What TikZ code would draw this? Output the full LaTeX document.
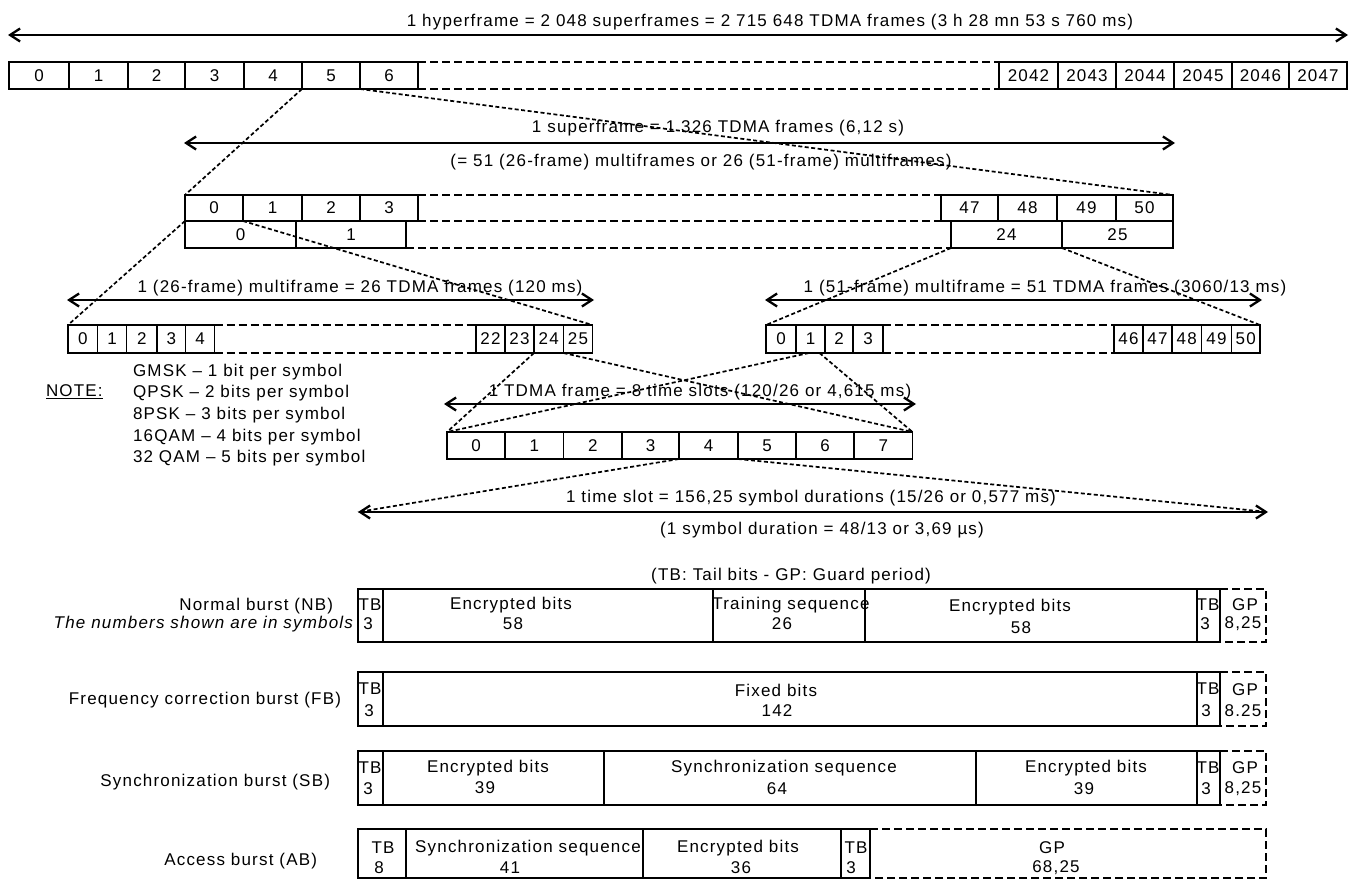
\documentclass[tikz,border=0pt]{standalone}
\usepackage{fontspec}
\setmainfont{Liberation Sans}[LetterSpace=7]
\usetikzlibrary{arrows.meta}
\tikzset{
  cell/.style={inner sep=0pt, outer sep=0pt, line width=1.9pt, rectangle},
  rowdash/.style={line width=1.9pt, dash pattern=on 8pt off 4pt},
  zoomline/.style={line width=1.7pt, dash pattern=on 4pt off 2.5pt},
  dimarrow/.style={line width=2.3pt, {Straight Barb[length=10pt,width=13pt,line width=2.3pt]}-{Straight Barb[length=10pt,width=13pt,line width=2.3pt]}},
  txt/.style={inner sep=0pt, outer sep=0pt},
}
% name, x1, x2, y1, y2, text
\newcommand\fcell[7][draw]{\node[cell,#1,minimum width={(#4-#3)*1pt},minimum height={(#6-#5)*1pt}] (#2) at ({(#3+#4)/2},{(#5+#6)/2}) {#7};}
\newcommand\tx[4]{\node[txt] (#1) at (#2,#3) {#4};}
\begin{document}
\begin{tikzpicture}[x=1pt,y=-1pt,font=\fontsize{17}{20}\selectfont]
\useasboundingbox (0,0) rectangle (1353,880);
\fill[white] (0,0) rectangle (1353,880);

% ---------------- hyperframe
\coordinate (hyL) at (8,35); \coordinate (hyR) at (1348,35);
\draw[dimarrow] (hyL) -- (hyR);
\tx{hyT}{770}{22}{1 hyperframe = 2 048 superframes = 2 715 648 TDMA frames (3 h 28 mn 53 s 760 ms)}
\fcell{h0}{9}{69}{62}{89}{0}
\fcell{h1}{69}{128}{62}{89}{1}
\fcell{h2}{128}{185}{62}{89}{2}
\fcell{h3}{185}{244}{62}{89}{3}
\fcell{h4}{244}{302}{62}{89}{4}
\fcell{h5}{302}{360}{62}{89}{5}
\fcell{h6}{360}{418}{62}{89}{6}
\fcell{h2042}{999}{1058}{62}{89}{2042}
\fcell{h2043}{1058}{1116}{62}{89}{2043}
\fcell{h2044}{1116}{1174}{62}{89}{2044}
\fcell{h2045}{1174}{1232}{62}{89}{2045}
\fcell{h2046}{1232}{1289}{62}{89}{2046}
\fcell{h2047}{1289}{1347}{62}{89}{2047}
\draw[rowdash] (h6.north east) -- (h2042.north west);
\draw[rowdash] (h6.south east) -- (h2042.south west);

% ---------------- superframe
\coordinate (sfL) at (184,143); \coordinate (sfR) at (1175,143);
\draw[dimarrow] (sfL) -- (sfR);
\tx{sfT}{718}{128}{1 superframe = 1 326 TDMA frames (6,12 s)}
\tx{sfT2}{701}{162}{(= 51 (26-frame) multiframes or 26 (51-frame) multiframes)}
\fcell{sf0}{185}{243}{195}{221}{0}
\fcell{sf1}{243}{302}{195}{221}{1}
\fcell{sf2}{302}{360}{195}{221}{2}
\fcell{sf3}{360}{418}{195}{221}{3}
\fcell{sf47}{941}{998}{195}{221}{47}
\fcell{sf48}{998}{1057}{195}{221}{48}
\fcell{sf49}{1057}{1116}{195}{221}{49}
\fcell{sf50}{1116}{1173}{195}{221}{50}
\fcell{sfb0}{185}{296}{221}{248}{0}
\fcell{sfb1}{296}{406}{221}{248}{1}
\fcell{sfb24}{951}{1062}{221}{248}{24}
\fcell{sfb25}{1062}{1173}{221}{248}{25}
\draw[rowdash] (sf3.north east) -- (sf47.north west);
\draw[rowdash] (sf3.south east) -- (sf47.south west);
\draw[rowdash] (sfb1.south east) -- (sfb24.south west);

% ---------------- 26-frame multiframe
\coordinate (m26L) at (67,300); \coordinate (m26R) at (594,300);
\draw[dimarrow] (m26L) -- (m26R);
\tx{m26T}{360}{288}{1 (26-frame) multiframe = 26 TDMA frames (120 ms)}
\fcell{m26c0}{68}{97.5}{325}{353}{0}
\fcell{m26c1}{97.5}{126.5}{325}{353}{1}
\fcell{m26c2}{126.5}{157}{325}{353}{2}
\fcell{m26c3}{157}{185.5}{325}{353}{3}
\fcell{m26c4}{185.5}{214.5}{325}{353}{4}
\fcell{m26c22}{476}{505}{325}{353}{22}
\fcell{m26c23}{505}{534}{325}{353}{23}
\fcell{m26c24}{534}{563.5}{325}{353}{24}
\fcell{m26c25}{563.5}{592.5}{325}{353}{25}
\draw[rowdash] (m26c4.north east) -- (m26c22.north west);
\draw[rowdash] (m26c4.south east) -- (m26c22.south west);

% ---------------- 51-frame multiframe
\coordinate (m51L) at (765,300); \coordinate (m51R) at (1262,300);
\draw[dimarrow] (m51L) -- (m51R);
\tx{m51T}{1045}{288}{1 (51-frame) multiframe = 51 TDMA frames (3060/13 ms)}
\fcell{m51c0}{766}{796}{325}{353}{0}
\fcell{m51c1}{796}{825}{325}{353}{1}
\fcell{m51c2}{825}{853}{325}{353}{2}
\fcell{m51c3}{853}{883}{325}{353}{3}
\fcell{m51c46}{1114}{1143}{325}{353}{46}
\fcell{m51c47}{1143}{1172}{325}{353}{47}
\fcell{m51c48}{1172}{1201.5}{325}{353}{48}
\fcell{m51c49}{1201.5}{1231.5}{325}{353}{49}
\fcell{m51c50}{1231.5}{1260}{325}{353}{50}
\draw[rowdash] (m51c3.north east) -- (m51c46.north west);
\draw[rowdash] (m51c3.south east) -- (m51c46.south west);

% ---------------- NOTE
\node[txt,anchor=west] (note) at (46,392) {\underline{NOTE:}};
\node[txt,anchor=west] (n1) at (133,372) {GMSK – 1 bit per symbol};
\node[txt,anchor=west] (n2) at (133,393) {QPSK – 2 bits per symbol};
\node[txt,anchor=west] (n3) at (133,415) {8PSK – 3 bits per symbol};
\node[txt,anchor=west] (n4) at (133,437) {16QAM – 4 bits per symbol};
\node[txt,anchor=west] (n5) at (133,458) {32 QAM – 5 bits per symbol};

% ---------------- TDMA frame
\coordinate (tdL) at (444,404); \coordinate (tdR) at (916,404);
\draw[dimarrow] (tdL) -- (tdR);
\tx{tdT}{700}{392}{1 TDMA frame = 8 time slots (120/26 or 4,615 ms)}
\fcell{t0}{447}{505}{432}{459}{0}
\fcell{t1}{505}{563.5}{432}{459}{1}
\fcell{t2}{563.5}{622}{432}{459}{2}
\fcell{t3}{622}{679}{432}{459}{3}
\fcell{t4}{679}{738}{432}{459}{4}
\fcell{t5}{738}{796}{432}{459}{5}
\fcell{t6}{796}{854}{432}{459}{6}
\fcell{t7}{854}{912.5}{432}{459}{7}

% ---------------- time slot
\coordinate (tsL) at (358,512); \coordinate (tsR) at (1268,512);
\draw[dimarrow] (tsL) -- (tsR);
\tx{tsT}{811}{498}{1 time slot = 156,25 symbol durations (15/26 or 0,577 ms)}
\tx{tsT2}{822}{530}{(1 symbol duration = 48/13 or 3,69 µs)}

% ---------------- zoom lines
\draw[zoomline] (h5.south west) -- (sf0.north west);
\draw[zoomline] (h5.south east) -- (sf50.north east);
\draw[zoomline] (sf0.south west) -- (m26c0.north west);
\draw[zoomline] (sf0.south east) -- (m26c25.north east);
\draw[zoomline] (sfb24.south west) -- (m51c0.north west);
\draw[zoomline] (sfb24.south east) -- (m51c50.north east);
\draw[zoomline] (m26c24.south west) -- (t0.north west);
\draw[zoomline] (m26c24.south east) -- (t7.north east);
\coordinate (m51a) at (809,353); \coordinate (m51b) at (819.5,353);
\draw[zoomline] (m51a) -- (t0.north west);
\draw[zoomline] (m51b) -- (t7.north east);
\draw[zoomline] (t4.south west) -- (tsL);
\draw[zoomline] (t4.south east) -- (tsR);

% ---------------- bursts
\tx{legend}{791}{576}{(TB: Tail bits - GP: Guard period)}

% Normal burst
\node[txt,anchor=east] (lnb) at (333,606) {Normal burst (NB)};
\node[txt,anchor=east] (lnb2) at (353,624) {\itshape The numbers shown are in symbols};
\fcell{nbtb1}{358}{383}{589}{642}{}
\fcell{nbe1}{383}{713}{589}{642}{}
\fcell{nbtr}{713}{865}{589}{642}{}
\fcell{nbe2}{865}{1197}{589}{642}{}
\fcell{nbtb2}{1197}{1220}{589}{642}{}
\fcell[]{nbgp}{1220}{1266}{589}{642}{}
\draw[rowdash] (nbgp.north west) -- (nbgp.north east) -- (nbgp.south east) -- (nbgp.south west);
\tx{nb1a}{370}{605}{TB}\tx{nb1b}{368}{624}{3}
\tx{nb2a}{511}{605}{Encrypted bits}\tx{nb2b}{513}{624}{58}
\tx{nb3a}{791}{605}{Training sequence}\tx{nb3b}{782}{624}{26}
\tx{nb4a}{1010}{607}{Encrypted bits}\tx{nb4b}{1021}{628}{58}
\tx{nb5a}{1208}{605}{TB}\tx{nb5b}{1205}{624}{3}
\tx{nb6a}{1245}{605}{GP}\tx{nb6b}{1243}{624}{8,25}

% Frequency correction burst
\node[txt,anchor=east] (lfb) at (341,700) {Frequency correction burst (FB)};
\fcell{fbtb1}{358}{383}{672}{726}{}
\fcell{fbfx}{383}{1197}{672}{726}{}
\fcell{fbtb2}{1197}{1220}{672}{726}{}
\fcell[]{fbgp}{1220}{1266}{672}{726}{}
\draw[rowdash] (fbgp.north west) -- (fbgp.north east) -- (fbgp.south east) -- (fbgp.south west);
\tx{fb1a}{370}{689}{TB}\tx{fb1b}{369}{711}{3}
\tx{fb2a}{776}{690}{Fixed bits}\tx{fb2b}{777}{711}{142}
\tx{fb3a}{1208}{689}{TB}\tx{fb3b}{1206}{711}{3}
\tx{fb4a}{1245}{690}{GP}\tx{fb4b}{1243}{711}{8.25}

% Synchronization burst
\node[txt,anchor=east] (lsb) at (330,782) {Synchronization burst (SB)};
\fcell{sbtb1}{358}{383}{751}{805}{}
\fcell{sbe1}{383}{604}{751}{805}{}
\fcell{sbsy}{604}{976}{751}{805}{}
\fcell{sbe2}{976}{1197}{751}{805}{}
\fcell{sbtb2}{1197}{1220}{751}{805}{}
\fcell[]{sbgp}{1220}{1266}{751}{805}{}
\draw[rowdash] (sbgp.north west) -- (sbgp.north east) -- (sbgp.south east) -- (sbgp.south west);
\tx{sb1a}{370}{768}{TB}\tx{sb1b}{368}{789}{3}
\tx{sb2a}{488}{768}{Encrypted bits}\tx{sb2b}{485}{788}{39}
\tx{sb3a}{784}{768}{Synchronization sequence}\tx{sb3b}{777}{789}{64}
\tx{sb4a}{1086}{768}{Encrypted bits}\tx{sb4b}{1084}{789}{39}
\tx{sb5a}{1208}{768}{TB}\tx{sb5b}{1206}{789}{3}
\tx{sb6a}{1245}{768}{GP}\tx{sb6b}{1243}{789}{8,25}

% Access burst
\node[txt,anchor=east] (lab) at (317,861) {Access burst (AB)};
\fcell{abtb1}{358}{406}{829}{878}{}
\fcell{absy}{406}{643}{829}{878}{}
\fcell{abe}{643}{841}{829}{878}{}
\fcell{abtb2}{841}{870}{829}{878}{}
\fcell[]{abgp}{870}{1266}{829}{878}{}
\draw[rowdash] (abgp.north west) -- (abgp.north east) -- (abgp.south east) -- (abgp.south west);
\tx{ab1a}{383}{848}{TB}\tx{ab1b}{379}{868}{8}
\tx{ab2a}{528}{848}{Synchronization sequence}\tx{ab2b}{510}{868}{41}
\tx{ab3a}{738}{848}{Encrypted bits}\tx{ab3b}{741}{868}{36}
\tx{ab4a}{856}{848}{TB}\tx{ab4b}{851}{868}{3}
\tx{ab5a}{1052}{848}{GP}\tx{ab5b}{1056}{868}{68,25}
\end{tikzpicture}
\end{document}
